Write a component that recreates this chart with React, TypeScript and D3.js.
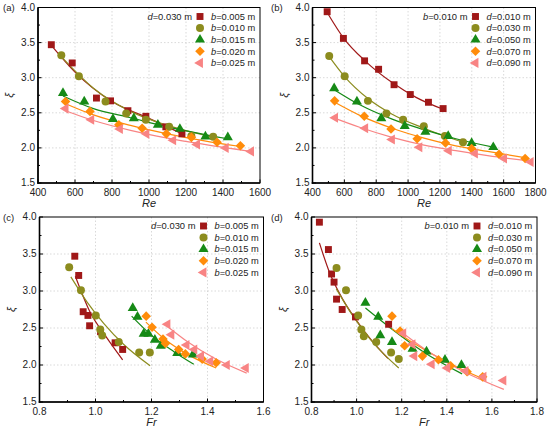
import * as d3 from "d3";

type Pt = [number, number];

// colours used in every panel (series 1..5)
const colors = ["#a01818", "#8c8c1e", "#168a16", "#ff8c0a", "#f88484"];
const markerTypes = ["square", "circle", "triangle", "diamond", "left"];

// ---- panel (a): d = 0.030 m, varying b, xi vs Re
const aLabels = ["b=0.005 m", "b=0.010 m", "b=0.015 m", "b=0.020 m", "b=0.025 m"];
const aPoints: Pt[][] = [
  [[472, 3.47], [585, 3.21], [716, 2.71], [792, 2.67], [886, 2.53], [983, 2.45], [1091, 2.3], [1178, 2.2]],
  [[526, 3.32], [621, 3.02], [765, 2.66], [877, 2.49], [983, 2.4], [1109, 2.3], [1229, 2.17], [1347, 2.16]],
  [[535, 2.78], [650, 2.66], [805, 2.41], [918, 2.42], [1048, 2.33], [1167, 2.27], [1305, 2.16], [1426, 2.15]],
  [[549, 2.66], [681, 2.52], [837, 2.33], [963, 2.28], [1094, 2.2], [1229, 2.15], [1368, 2.08], [1494, 2.03]],
  [[549, 2.56], [688, 2.4], [843, 2.27], [986, 2.2], [1131, 2.11], [1260, 2.05], [1415, 2.0], [1552, 1.95]],
];
const aFits: Pt[][] = [
  [[472, 3.46], [600, 3.08], [800, 2.66], [1000, 2.42], [1180, 2.2]],
  [[526, 3.3], [700, 2.85], [900, 2.52], [1100, 2.32], [1350, 2.15]],
  [[535, 2.74], [700, 2.56], [900, 2.43], [1100, 2.3], [1425, 2.13]],
  [[549, 2.63], [700, 2.47], [900, 2.32], [1100, 2.2], [1300, 2.1], [1494, 2.02]],
  [[549, 2.53], [700, 2.39], [900, 2.25], [1100, 2.14], [1300, 2.05], [1552, 1.95]],
];

// ---- panel (b): b = 0.010 m, varying d, xi vs Re
const bLabels = ["d=0.010 m", "d=0.030 m", "d=0.050 m", "d=0.070 m", "d=0.090 m"];
const bPoints: Pt[][] = [
  [[492, 3.94], [594, 3.56], [727, 3.24], [815, 3.12], [912, 2.9], [1014, 2.76], [1128, 2.65], [1220, 2.56]],
  [[505, 3.31], [602, 3.02], [748, 2.67], [864, 2.49], [969, 2.4], [1099, 2.31], [1231, 2.17], [1345, 2.08]],
  [[536, 2.85], [679, 2.66], [832, 2.42], [979, 2.31], [1109, 2.23], [1252, 2.17], [1399, 2.07], [1535, 2.01]],
  [[539, 2.67], [725, 2.45], [893, 2.27], [1057, 2.13], [1235, 2.07], [1399, 1.99], [1571, 1.91], [1735, 1.85]],
  [[542, 2.43], [731, 2.28], [899, 2.12], [1071, 2.01], [1256, 1.96], [1420, 1.92], [1603, 1.85], [1770, 1.8]],
];
const bFits: Pt[][] = [
  [[492, 3.93], [600, 3.55], [730, 3.24], [900, 2.93], [1050, 2.72], [1220, 2.55]],
  [[505, 3.3], [600, 3.02], [750, 2.7], [900, 2.48], [1100, 2.28], [1345, 2.08]],
  [[536, 2.83], [700, 2.61], [900, 2.41], [1100, 2.26], [1300, 2.13], [1535, 2.01]],
  [[539, 2.65], [700, 2.46], [900, 2.28], [1100, 2.14], [1300, 2.03], [1500, 1.95], [1735, 1.86]],
  [[542, 2.42], [700, 2.29], [900, 2.15], [1100, 2.04], [1300, 1.96], [1500, 1.89], [1770, 1.81]],
];

// ---- panel (c): d = 0.030 m, varying b, xi vs Fr
const cPoints: Pt[][] = [
  [[0.926, 3.47], [0.94, 3.21], [0.956, 2.72], [0.973, 2.67], [0.979, 2.53], [1.018, 2.45], [1.07, 2.3], [1.097, 2.21]],
  [[0.906, 3.32], [0.948, 3.01], [1.001, 2.67], [1.017, 2.48], [1.024, 2.4], [1.083, 2.31], [1.156, 2.17], [1.194, 2.17]],
  [[1.133, 2.77], [1.15, 2.65], [1.172, 2.42], [1.189, 2.42], [1.212, 2.34], [1.233, 2.26], [1.292, 2.16], [1.348, 2.14]],
  [[1.181, 2.66], [1.202, 2.51], [1.241, 2.35], [1.25, 2.29], [1.297, 2.21], [1.321, 2.15], [1.381, 2.08], [1.431, 2.03]],
  [[1.257, 2.55], [1.271, 2.41], [1.325, 2.27], [1.353, 2.21], [1.377, 2.12], [1.41, 2.05], [1.469, 2.0], [1.537, 1.96]],
];
const cFits: Pt[][] = [
  [[0.928, 3.2], [0.98, 2.72], [1.04, 2.37], [1.097, 2.07]],
  [[0.912, 3.19], [0.97, 2.85], [1.03, 2.56], [1.1, 2.28], [1.195, 1.99]],
  [[1.129, 2.66], [1.2, 2.4], [1.28, 2.18], [1.351, 2.01]],
  [[1.18, 2.58], [1.25, 2.34], [1.33, 2.14], [1.431, 1.96]],
  [[1.257, 2.52], [1.33, 2.31], [1.43, 2.08], [1.54, 1.89]],
];

// ---- panel (d): b = 0.010 m, varying d, xi vs Fr
const dPoints: Pt[][] = [
  [[0.835, 3.93], [0.875, 3.56], [0.889, 3.23], [0.9, 3.12], [0.911, 2.89], [0.936, 2.75], [0.995, 2.65], [1.142, 2.55]],
  [[0.911, 3.31], [0.953, 3.01], [1.007, 2.67], [1.021, 2.48], [1.032, 2.39], [1.087, 2.31], [1.153, 2.17], [1.187, 2.08]],
  [[1.039, 2.84], [1.096, 2.65], [1.105, 2.4], [1.157, 2.31], [1.248, 2.22], [1.31, 2.18], [1.392, 2.07], [1.465, 2.0]],
  [[1.157, 2.66], [1.193, 2.46], [1.213, 2.26], [1.292, 2.12], [1.363, 2.07], [1.417, 1.99], [1.49, 1.91], [1.559, 1.84]],
  [[1.207, 2.43], [1.248, 2.28], [1.256, 2.12], [1.333, 2.01], [1.402, 1.96], [1.483, 1.92], [1.563, 1.84], [1.651, 1.79]],
];
const dFits: Pt[][] = [
  [[0.835, 3.65], [0.88, 3.25], [0.94, 2.88], [1.0, 2.6], [1.07, 2.32], [1.139, 2.09]],
  [[0.91, 3.03], [0.98, 2.68], [1.06, 2.35], [1.12, 2.15], [1.187, 1.96]],
  [[1.039, 2.77], [1.15, 2.5], [1.3, 2.17], [1.468, 1.88]],
  [[1.157, 2.49], [1.25, 2.3], [1.4, 2.04], [1.555, 1.82]],
  [[1.197, 2.45], [1.3, 2.22], [1.45, 1.95], [1.653, 1.67]],
];

const yTicks = [1.5, 2.0, 2.5, 3.0, 3.5, 4.0];
const reTicksA = [400, 600, 800, 1000, 1200, 1400, 1600];
const reTicksB = [400, 600, 800, 1000, 1200, 1400, 1600, 1800];
const frTicksC = [0.8, 1.0, 1.2, 1.4, 1.6];
const frTicksD = [0.8, 1.0, 1.2, 1.4, 1.6, 1.8];

const FONT = "'Liberation Sans', Arial, sans-serif";

function Marker({ type, x, y, color }: { type: string; x: number; y: number; color: string }) {
  let sym: d3.SymbolType = d3.symbolSquare;
  let rot = 0;
  let size = 48;
  if (type === "circle") { sym = d3.symbolCircle; size = 50; }
  if (type === "triangle") { sym = d3.symbolTriangle; size = 44; }
  if (type === "diamond") { sym = d3.symbolSquare; rot = 45; size = 46; }
  if (type === "left") { sym = d3.symbolTriangle; rot = -90; size = 44; }
  const path = d3.symbol().type(sym).size(size)()!;
  return <path d={path} fill={color} transform={`translate(${x},${y}) rotate(${rot})`} />;
}

type PanelProps = {
  tag: string;
  tagX: number;
  x0: number; x1: number; y0: number; y1: number;
  xDomain: [number, number];
  xTicks: number[];
  xTitle: string;
  xFmt: (v: number) => string;
  points: Pt[][];
  fits: Pt[][];
  header: [string, string];
  labels: string[];
};

function Panel(p: PanelProps) {
  const x = d3.scaleLinear().domain(p.xDomain).range([p.x0, p.x1]);
  const y = d3.scaleLinear().domain([1.5, 4.0]).range([p.y1, p.y0]);
  const line = d3.line<Pt>().x((d) => x(d[0])).y((d) => y(d[1])).curve(d3.curveMonotoneX);
  const step = p.xTicks[1] - p.xTicks[0];
  const xMinor = p.xTicks.slice(0, -1).map((t) => t + step / 2);
  const yMinor = yTicks.slice(0, -1).map((t) => t + 0.25);
  const legX = p.x1 - 60;
  const legY0 = p.y0 + 9;
  const rowH = 11.6;

  return (
    <g fontFamily={FONT}>
      {/* grid */}
      {p.xTicks.slice(1, -1).map((t) => (
        <line key={"gx" + t} x1={x(t)} x2={x(t)} y1={p.y0} y2={p.y1} stroke="#cfcfcf" strokeWidth={0.8} strokeDasharray="1.5,2" />
      ))}
      {yTicks.slice(1, -1).map((t) => (
        <line key={"gy" + t} x1={p.x0} x2={p.x1} y1={y(t)} y2={y(t)} stroke="#cfcfcf" strokeWidth={0.8} strokeDasharray="1.5,2" />
      ))}

      {/* fits */}
      {p.fits.map((f, i) => (
        <path key={"f" + i} d={line(f)!} fill="none" stroke={colors[i]} strokeWidth={1.2} />
      ))}

      {/* points */}
      {p.points.map((s, i) =>
        s.map((d, j) => <Marker key={`m${i}-${j}`} type={markerTypes[i]} x={x(d[0])} y={y(d[1])} color={colors[i]} />)
      )}

      {/* frame */}
      <rect x={p.x0} y={p.y0} width={p.x1 - p.x0} height={p.y1 - p.y0} fill="none" stroke="#000" strokeWidth={1} />
      <line x1={p.x0} x2={p.x0} y1={p.y0} y2={p.y1 + 0.8} stroke="#000" strokeWidth={1.6} />
      <line x1={p.x0 - 0.8} x2={p.x1} y1={p.y1} y2={p.y1} stroke="#000" strokeWidth={1.6} />

      {/* ticks (inward) */}
      {p.xTicks.map((t) => (
        <line key={"tx" + t} x1={x(t)} x2={x(t)} y1={p.y1} y2={p.y1 - 3.5} stroke="#000" strokeWidth={1} />
      ))}
      {xMinor.map((t) => (
        <line key={"mx" + t} x1={x(t)} x2={x(t)} y1={p.y1} y2={p.y1 - 2} stroke="#000" strokeWidth={1} />
      ))}
      {yTicks.map((t) => (
        <line key={"ty" + t} x1={p.x0} x2={p.x0 + 3.5} y1={y(t)} y2={y(t)} stroke="#000" strokeWidth={1} />
      ))}
      {yMinor.map((t) => (
        <line key={"my" + t} x1={p.x0} x2={p.x0 + 2} y1={y(t)} y2={y(t)} stroke="#000" strokeWidth={1} />
      ))}

      {/* tick labels */}
      {p.xTicks.map((t) => (
        <text key={"lx" + t} x={x(t)} y={p.y1 + 13} textAnchor="middle" fontSize={10} fill="#222">
          {p.xFmt(t)}
        </text>
      ))}
      {yTicks.map((t) => (
        <text key={"ly" + t} x={p.x0 - 3} y={y(t)} dy="0.3em" textAnchor="end" fontSize={10} fill="#222">
          {t.toFixed(1)}
        </text>
      ))}

      {/* axis titles */}
      <text x={(p.x0 + p.x1) / 2} y={p.y1 + 24} textAnchor="middle" fontSize={11} fontStyle="italic" fill="#222">
        {p.xTitle}
      </text>
      <text transform={`translate(${p.x0 - 25},${(p.y0 + p.y1) / 2}) rotate(-90)`} textAnchor="middle" fontSize={11} fontStyle="italic" fill="#222">
        ξ
      </text>

      {/* panel tag */}
      <text x={p.tagX} y={p.y0 + 3.5} fontSize={9.5} fill="#222">{p.tag}</text>

      {/* legend */}
      <text x={legX - 8} y={legY0} dy="0.35em" textAnchor="end" fontSize={9.4} fill="#222">
        <tspan fontStyle="italic">{p.header[0]}</tspan>
        <tspan>{p.header[1]}</tspan>
      </text>
      {p.labels.map((l, i) => (
        <g key={"lg" + i}>
          <Marker type={markerTypes[i]} x={legX} y={legY0 + i * rowH} color={colors[i]} />
          <text x={legX + 11} y={legY0 + i * rowH} dy="0.35em" fontSize={9.3} fill="#222">
            <tspan fontStyle="italic">{l[0]}</tspan>
            <tspan>{l.slice(1)}</tspan>
          </text>
        </g>
      ))}
    </g>
  );
}

export default function App() {
  const reFmt = (v: number) => String(v);
  const frFmt = (v: number) => v.toFixed(1);
  return (
    <div style={{ position: "absolute", left: 0, top: 0 }}>
      <svg width={550} height={429} style={{ display: "block", background: "#fff" }}>
        <Panel tag="(a)" tagX={3} x0={38} x1={260} y0={7.5} y1={183} xDomain={[400, 1600]} xTicks={reTicksA}
          xTitle="Re" xFmt={reFmt} points={aPoints} fits={aFits} header={["d", "=0.030 m"]} labels={aLabels} />
        <Panel tag="(b)" tagX={271} x0={312.5} x1={535.5} y0={7.5} y1={183} xDomain={[400, 1800]} xTicks={reTicksB}
          xTitle="Re" xFmt={reFmt} points={bPoints} fits={bFits} header={["b", "=0.010 m"]} labels={bLabels} />
        <Panel tag="(c)" tagX={3} x0={39.5} x1={263.5} y0={217} y1={402} xDomain={[0.8, 1.6]} xTicks={frTicksC}
          xTitle="Fr" xFmt={frFmt} points={cPoints} fits={cFits} header={["d", "=0.030 m"]} labels={aLabels} />
        <Panel tag="(d)" tagX={271} x0={311.5} x1={537} y0={217} y1={402} xDomain={[0.8, 1.8]} xTicks={frTicksD}
          xTitle="Fr" xFmt={frFmt} points={dPoints} fits={dFits} header={["b", "=0.010 m"]} labels={bLabels} />
      </svg>
    </div>
  );
}
